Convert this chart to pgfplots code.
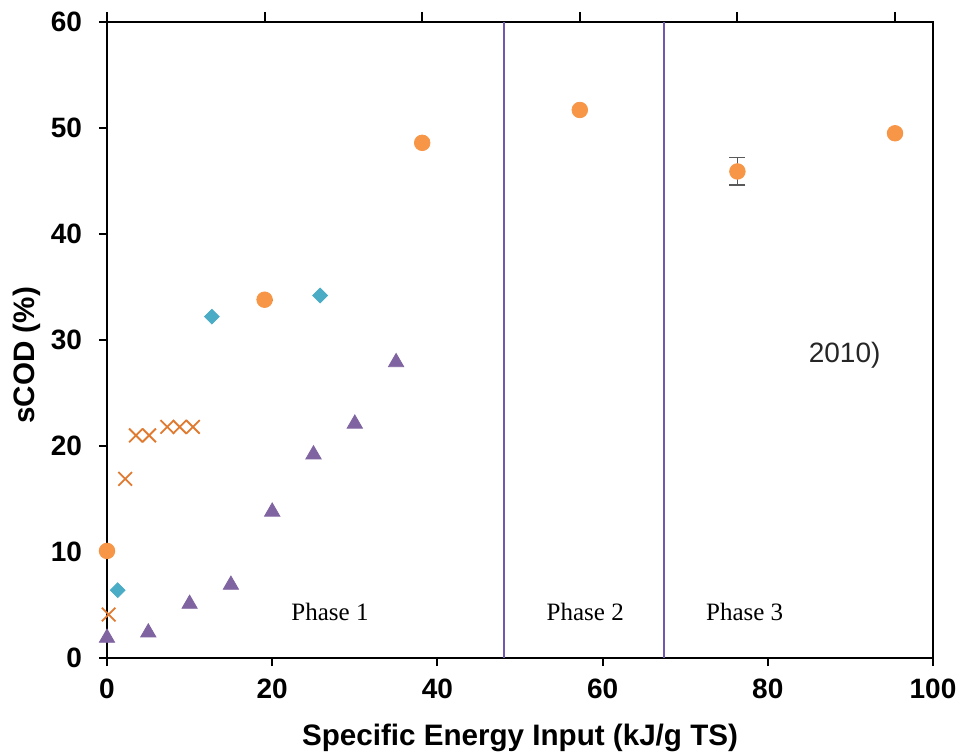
\documentclass[border=0pt]{standalone}
\usepackage{pgfplots}
\pgfplotsset{compat=1.18}
\usepackage{fontspec}
\setmainfont{Liberation Sans}
\newfontfamily\timesfont{Liberation Serif}
\definecolor{corange}{HTML}{F79646}
\definecolor{ccyan}{HTML}{4BACC6}
\definecolor{cpurple}{HTML}{8064A2}
\definecolor{ccross}{HTML}{E07A30}
\definecolor{cline}{HTML}{7058B0}
\begin{document}
\begin{tikzpicture}
\useasboundingbox (-53.5pt,-47.5pt) rectangle (427.5pt,329pt);
\begin{axis}[
  at={(0,0)}, anchor=south west,
  width=413pt, height=318pt, scale only axis,
  xmin=0, xmax=104.82, ymin=0, ymax=60,
  axis x line*=top, axis y line=none,
  xtick={0,20,...,100}, xticklabels={},
  tick align=outside, major tick length=5pt,
  tick style={line width=1pt, black},
  axis line style={line width=1pt},
]
\end{axis}
\begin{axis}[
  at={(0,0)}, anchor=south west,
  width=413pt, height=318pt, scale only axis,
  xmin=0, xmax=100, ymin=0, ymax=60,
  xtick={0,20,...,100}, ytick={0,10,...,60},
  axis line style={line width=1pt},
  tick style={line width=1pt, black},
  tick align=outside,
  major tick length=4pt,
  xtick pos=bottom, ytick pos=left,
  ticklabel style={font=\bfseries\fontsize{14}{16}\selectfont},
  xticklabel style={yshift=-3pt},
  yticklabel style={xshift=-5pt},
  /pgf/number format/assume math mode=true,
  xlabel={Specific Energy Input (kJ/g TS)},
  ylabel={sCOD (\%)},
  label style={font=\bfseries\fontsize{14.8}{17}\selectfont},
  xlabel style={at={(axis description cs:0.5,-0.125)}, anchor=center},
  ylabel style={at={(axis description cs:-0.0975,0.476)}, anchor=center},
  clip=false,
]
\addplot[cline, line width=1pt, forget plot] coordinates {(48.1,0) (48.1,60)};
\addplot[cline, line width=1pt, forget plot] coordinates {(67.4,0) (67.4,60)};
% crosses
\addplot[only marks, mark=x, mark size=4.8pt, color=ccross, mark options={line width=0.9pt}] coordinates {
(0.2,4.1) (2.2,16.9) (3.5,21.0) (5.1,21.0) (7.3,21.8) (8.8,21.8) (10.4,21.8)};
% triangles
\addplot[only marks, mark=triangle*, mark size=4.4pt, color=cpurple, mark options={draw=cpurple, fill=cpurple}] coordinates {
(0,1.9) (5,2.4) (10,5.1) (15,6.9) (20,13.8) (25,19.2) (30,22.1) (35,27.9)};
% diamonds
\addplot[only marks, mark=square*, mark size=2.6pt, color=ccyan, mark options={rotate=45, draw=ccyan, fill=ccyan}] coordinates {
(1.3,6.4) (12.7,32.2) (25.8,34.2)};
% circles with error bar
\addplot[only marks, mark=*, mark size=3.9pt, color=corange, mark options={draw=corange, fill=corange},
  error bars/.cd, y dir=both, y explicit,
  error bar style={gray!70!black, line width=0.8pt},
  error mark options={rotate=90, mark size=4pt, gray!70!black, line width=0.8pt}]
  table[x=x, y=y, y error=e] {
x y e
0 10.1 0
19.08 33.8 0
38.16 48.6 0
57.24 51.7 0
76.32 45.9 1.3
95.4 49.5 0
};
\node[font=\timesfont\fontsize{12.5}{14}\selectfont] at (axis cs:27,4.3) {Phase 1};
\node[font=\timesfont\fontsize{12.5}{14}\selectfont] at (axis cs:57.9,4.3) {Phase 2};
\node[font=\timesfont\fontsize{12.5}{14}\selectfont] at (axis cs:77.2,4.3) {Phase 3};
\node[font=\fontsize{14}{16}\selectfont, text=black!85] at (axis cs:89.3,28.6) {2010)};
\end{axis}
\end{tikzpicture}
\end{document}
